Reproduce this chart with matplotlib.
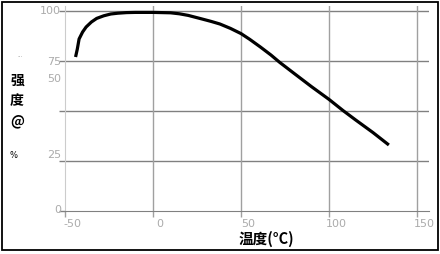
import matplotlib
matplotlib.use("Agg")
import matplotlib.pyplot as plt
import matplotlib.transforms as mtransforms
from matplotlib.patches import Rectangle

# curve (temperature in C, strength in %)
temps = [-44, -43, -42, -40, -38, -35, -32, -28, -24, -20, -15, -10, 0, 10, 15, 20,
         27, 33, 38, 44, 50, 55, 61, 67, 72, 80, 90, 100, 108, 115, 125, 134]
strength = [77, 81, 86, 89.5, 92, 94.5, 96.3, 97.6, 98.5, 98.9, 99.2, 99.3, 99.3, 99.1, 98.6, 97.8,
            96.2, 94.8, 93.5, 91.3, 88.7, 85.8, 82, 78, 74.3, 68.9, 62.2, 55.8, 50.2, 45.6, 39.2, 33]

xticks = [-50, 0, 50, 100, 150]
yticks = [0, 25, 50, 75, 100]
ytick_labels = ['0', '25', '50', '75', '100']
# the labels in the source image sit in odd places, keep them there
ylabel_pos = [0.5, 28, 66, 74.5, 100]

W, H = 440, 254
fig = plt.figure(figsize=(W / 100, H / 100), dpi=100)
ax = fig.add_axes([65 / W, 1 - 211 / H, 364 / W, 205 / H])

ax.plot(temps, strength, color='black', lw=2.3, solid_capstyle='butt', zorder=3)

ax.set_xlim(-50, 156.8)
ax.set_ylim(0, 102.5)
ax.set_xticks(xticks)
ax.set_yticks(yticks)
ax.set_yticklabels([])
ax.set_xticklabels([str(t) for t in xticks])

for t in yticks[1:]:
    ax.axhline(t, color='#808080', lw=1, zorder=1)
for t in xticks[1:]:
    ax.axvline(t, color='#a0a0a0', lw=1, zorder=1)

for s in ['top', 'right']:
    ax.spines[s].set_visible(False)
ax.spines['left'].set_color('#cccccc')
ax.spines['bottom'].set_color('#808080')
ax.tick_params(axis='y', length=4, color='#808080', width=1)
ax.tick_params(axis='x', length=4, color='#a0a0a0', width=1, labelsize=8,
               labelcolor='#ababab', pad=1.5)

off = mtransforms.ScaledTranslation(7 / 100, 0, fig.dpi_scale_trans)
for lab in ax.get_xticklabels():
    lab.set_transform(lab.get_transform() + off)

ytrans = mtransforms.blended_transform_factory(fig.transFigure, ax.transData)
for pos, lab in zip(ylabel_pos, ytick_labels):
    fig.text(61 / W, pos, lab, transform=ytrans, ha='right', va='center',
             fontsize=8, color='#ababab')

# y axis title, stacked characters
cjk = ['Noto Sans CJK SC', 'DejaVu Sans']
fig.text(20 / W, 1 - 55 / H, '...', fontsize=4, color='#888888', ha='center', va='center')
for ch, yp in zip(['强', '度', '@'], [81, 101, 121]):
    fig.text(17 / W, 1 - yp / H, ch, family=cjk, fontsize=10, fontweight='bold',
             ha='center', va='center')
fig.text(13 / W, 1 - 156 / H, '%', fontsize=6, ha='center', va='center')

fig.text(266 / W, 1 - 239 / H, '温度(°C)', family=cjk, fontsize=10.5, fontweight='bold',
         ha='center', va='center')

fig.patches.append(Rectangle((1.5 / W, 1 - 250 / H), 436 / W, 248 / H, transform=fig.transFigure,
                             fill=False, edgecolor='black', lw=1.3))

fig.savefig('out.png', dpi=100)
